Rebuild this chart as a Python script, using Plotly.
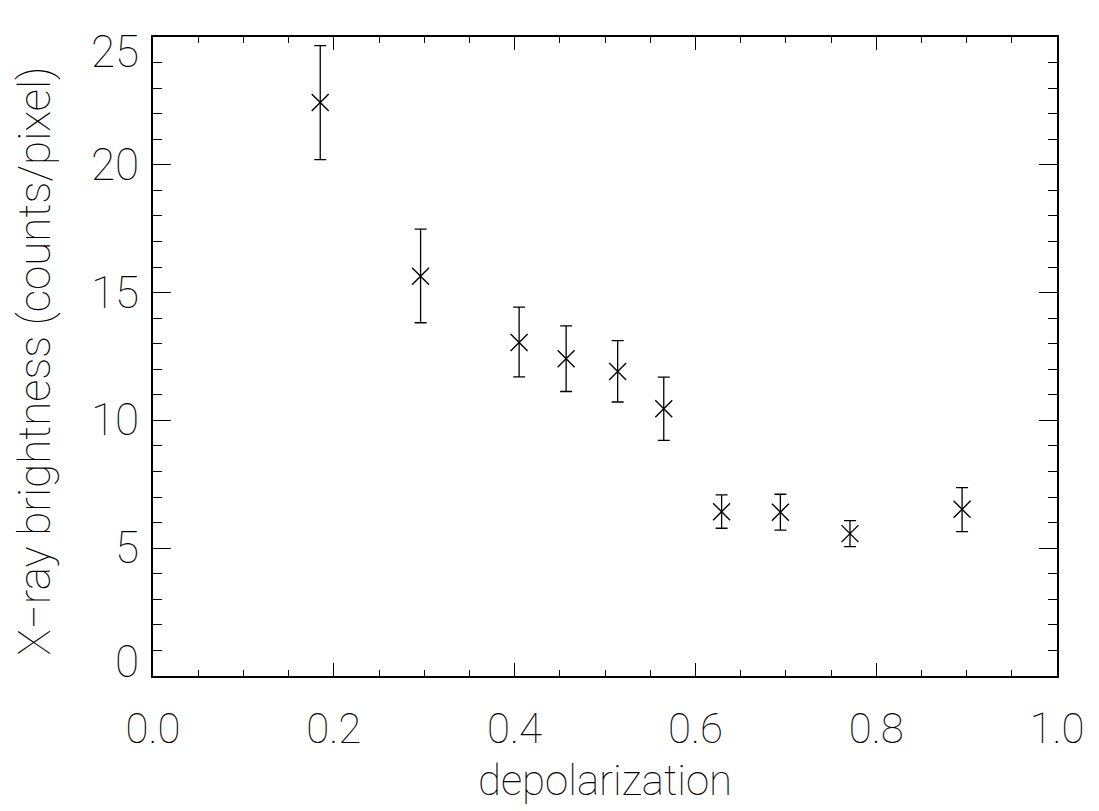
import plotly.graph_objects as go

# Data
depolarization = [0.185, 0.296, 0.405, 0.457, 0.514, 0.565, 0.629, 0.694, 0.771, 0.895]
brightness = [22.44, 15.64, 13.05, 12.41, 11.91, 10.46, 6.43, 6.41, 5.57, 6.52]
err_plus = [2.22, 1.84, 1.38, 1.29, 1.21, 1.23, 0.66, 0.70, 0.51, 0.85]
err_minus = [2.24, 1.82, 1.35, 1.28, 1.19, 1.24, 0.65, 0.70, 0.51, 0.87]

x_tickvals = [0.0, 0.2, 0.4, 0.6, 0.8, 1.0]
x_ticktext = ["0.0", "0.2", "0.4", "0.6", "0.8", "1.0"]
y_tickvals = [0, 5, 10, 15, 20, 25]
y_ticktext = ["0", "5", "10", "15", "20", "25"]

FONT = "Roboto, DejaVu Sans, sans-serif"
W = 100
TXT = "black"

fig = go.Figure()
fig.add_trace(go.Scatter(
    x=depolarization, y=brightness, mode="markers",
    marker=dict(symbol="x-thin-open", size=17, color="black",
                line=dict(color="black", width=1.4)),
    error_y=dict(type="data", symmetric=False, array=err_plus, arrayminus=err_minus,
                 color="black", thickness=1.3, width=6),
    showlegend=False,
))

axis_common = dict(
    showgrid=False, zeroline=False, showline=True, linecolor="black", linewidth=1.5,
    mirror="ticks", ticks="inside", tickcolor="black", tickwidth=1.3,
)

fig.update_xaxes(
    range=[0, 1], tickvals=x_tickvals, ticktext=x_ticktext, ticklen=13,
    tickfont=dict(family=FONT, size=42, color=TXT, weight=W),
    ticklabelstandoff=15,
    minor=dict(dtick=0.05, ticks="inside", ticklen=6, tickcolor="black", tickwidth=1.2),
    title=dict(text="depolarization", font=dict(family=FONT, size=42, color=TXT, weight=W),
               standoff=13),
    **axis_common,
)
fig.update_yaxes(
    range=[0, 25], tickvals=y_tickvals, ticktext=[""] * len(y_tickvals), ticklen=18,
    minor=dict(dtick=1, ticks="inside", ticklen=9, tickcolor="black", tickwidth=1.2),
    **axis_common,
)

# y tick labels (IDL style: end labels nudged inward)
for v, t in zip(y_tickvals, y_ticktext):
    shift = 0
    if v == y_tickvals[0]:
        shift = 14
    elif v == y_tickvals[-1]:
        shift = -15
    fig.add_annotation(
        x=0, xref="paper", y=v, yref="y", text=t, showarrow=False,
        xanchor="right", yanchor="middle", xshift=-12, yshift=shift,
        font=dict(family=FONT, size=44, color=TXT, weight=W),
    )

# y axis title
fig.add_annotation(
    x=0, xref="paper", y=0.5, yref="paper", text="X\u2212ray brightness (counts/pixel)",
    showarrow=False, textangle=-90, xanchor="center", yanchor="middle",
    xshift=-119, yshift=-5,
    font=dict(family=FONT, size=44, color=TXT, weight=W),
)

# the page body has an 8 px margin; compensate so the plot area sits where the reference's does
fig.update_layout(
    width=1091, height=803,
    margin=dict(l=145, r=42, t=29, b=135),
    paper_bgcolor="white", plot_bgcolor="white",
)

fig.write_html("out.html")
